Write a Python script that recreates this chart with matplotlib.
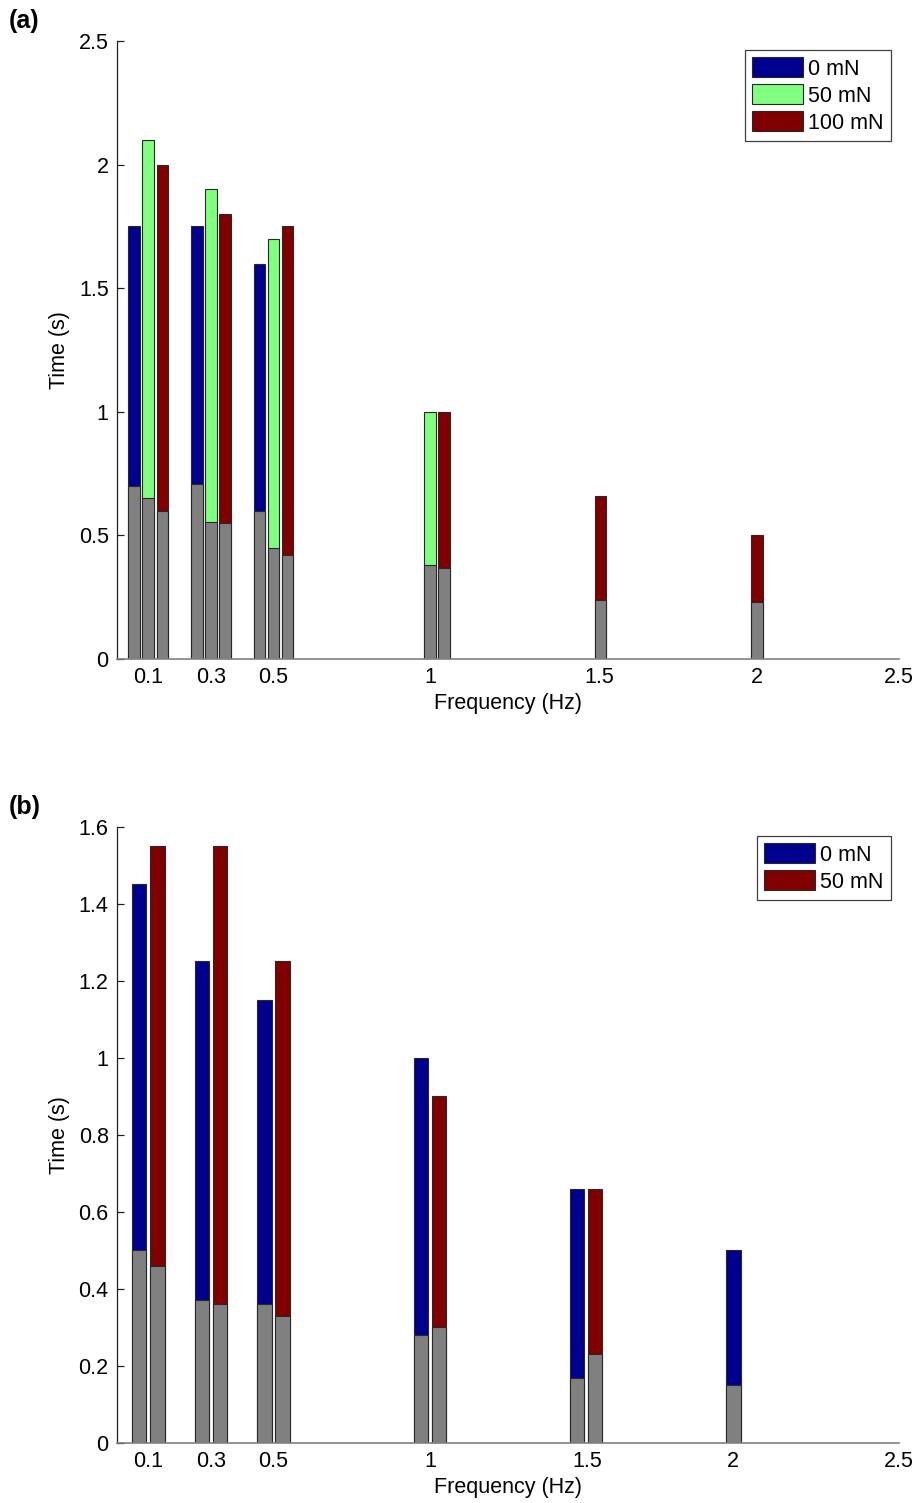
import matplotlib.pyplot as plt
from matplotlib.patches import Patch

plt.rcParams['font.family'] = ['Liberation Sans', 'DejaVu Sans']

# (a) total time and grey baseline part per frequency, for each load
freq_a = [0.1, 0.3, 0.5, 1.0, 1.5, 2.0]
total_a_0 = [1.75, 1.75, 1.60, None, None, None]
base_a_0 = [0.70, 0.71, 0.60, None, None, None]
total_a_50 = [2.10, 1.90, 1.70, 1.00, None, None]
base_a_50 = [0.65, 0.555, 0.45, 0.38, None, None]
total_a_100 = [2.00, 1.80, 1.75, 1.00, 0.66, 0.50]
base_a_100 = [0.60, 0.55, 0.42, 0.37, 0.24, 0.23]
labels_a = ['0 mN', '50 mN', '100 mN']

# (b)
freq_b = [0.1, 0.3, 0.5, 1.0, 1.5, 2.0]
total_b_0 = [1.45, 1.25, 1.15, 1.00, 0.66, 0.50]
base_b_0 = [0.50, 0.37, 0.36, 0.28, 0.17, 0.15]
total_b_50 = [1.55, 1.55, 1.25, 0.90, 0.66, None]
base_b_50 = [0.46, 0.36, 0.33, 0.30, 0.23, None]
labels_b = ['0 mN', '50 mN']

tick_text = ['0.1', '0.3', '0.5', '1', '1.5', '2', '2.5']
ticks_a = [0.1, 0.3, 0.5, 1.0, 1.543, 2.044, 2.5]
ticks_b = [0.1, 0.3, 0.5, 1.0, 1.503, 1.97, 2.5]

BLUE = '#00008F'
GREEN = '#80FF80'
RED = '#800000'
GREY = '#808080'
EDGE = '#282828'
FS = 15.5


def draw_series(ax, freqs, totals, bases, offset, width, color):
    for f, t, b in zip(freqs, totals, bases):
        if t is None:
            continue
        ax.bar(f + offset, t, width=width, color=color, edgecolor=EDGE, linewidth=0.8)
        ax.bar(f + offset, b, width=width, color=GREY, edgecolor=EDGE, linewidth=0.8)


def style_axes(ax, ylim, yticks, ticks):
    ax.set_xlim(0, 2.5)
    ax.set_ylim(*ylim)
    ax.set_yticks(yticks)
    ax.set_yticklabels([('%g' % v) for v in yticks])
    ax.set_xticks(ticks)
    ax.set_xticklabels(tick_text)
    for s in ['top', 'right']:
        ax.spines[s].set_visible(False)
    ax.spines['left'].set_color('#202020')
    ax.spines['bottom'].set_color(GREY)
    ax.spines['left'].set_linewidth(0.9)
    ax.spines['bottom'].set_linewidth(1.2)
    ax.tick_params(axis='y', direction='in', length=5, width=0.9, labelsize=FS,
                   color='#202020', pad=6)
    ax.tick_params(axis='x', length=0, labelsize=FS, pad=6)
    ax.set_xlabel('Frequency (Hz)', fontsize=FS, labelpad=3)
    ax.set_ylabel('Time (s)', fontsize=FS, labelpad=6)


fig = plt.figure(figsize=(9.19, 15.03), dpi=100)
ax1 = fig.add_axes([0.1273, 0.5615, 0.851, 0.4112])
ax2 = fig.add_axes([0.1273, 0.0399, 0.851, 0.4101])

w_a, d_a = 0.037, 0.045
draw_series(ax1, freq_a, total_a_0, base_a_0, -d_a, w_a, BLUE)
draw_series(ax1, freq_a, total_a_50, base_a_50, 0.0, w_a, GREEN)
draw_series(ax1, freq_a, total_a_100, base_a_100, d_a, w_a, RED)
style_axes(ax1, (0, 2.5), [0, 0.5, 1, 1.5, 2, 2.5], ticks_a)

w_b, d_b = 0.046, 0.029
draw_series(ax2, freq_b, total_b_0, base_b_0, -d_b, w_b, BLUE)
draw_series(ax2, freq_b, total_b_50, base_b_50, d_b, w_b, RED)
style_axes(ax2, (0, 1.6), [0, 0.2, 0.4, 0.6, 0.8, 1, 1.2, 1.4, 1.6], ticks_b)


def add_legend(ax, colors, labels, anchor):
    handles = [Patch(facecolor=c, edgecolor=EDGE, linewidth=0.8) for c in colors]
    leg = ax.legend(handles, labels, loc='upper right', bbox_to_anchor=anchor,
                    bbox_transform=fig.transFigure, fontsize=FS, frameon=True,
                    fancybox=False, framealpha=1, edgecolor='#404040',
                    handlelength=2.35, handleheight=1.05, labelspacing=0.22,
                    handletextpad=0.25, borderpad=0.34, borderaxespad=0)
    leg.get_frame().set_linewidth(0.9)


add_legend(ax1, [BLUE, GREEN, RED], labels_a, (891 / 919, 1 - 50 / 1503))
add_legend(ax2, [BLUE, RED], labels_b, (891 / 919, 1 - 836 / 1503))

fig.text(9 / 919, 1 - 21 / 1503, '(a)', fontsize=18, fontweight='bold', va='center')
fig.text(9 / 919, 1 - 807 / 1503, '(b)', fontsize=18, fontweight='bold', va='center')

fig.savefig('out.png', dpi=100)
